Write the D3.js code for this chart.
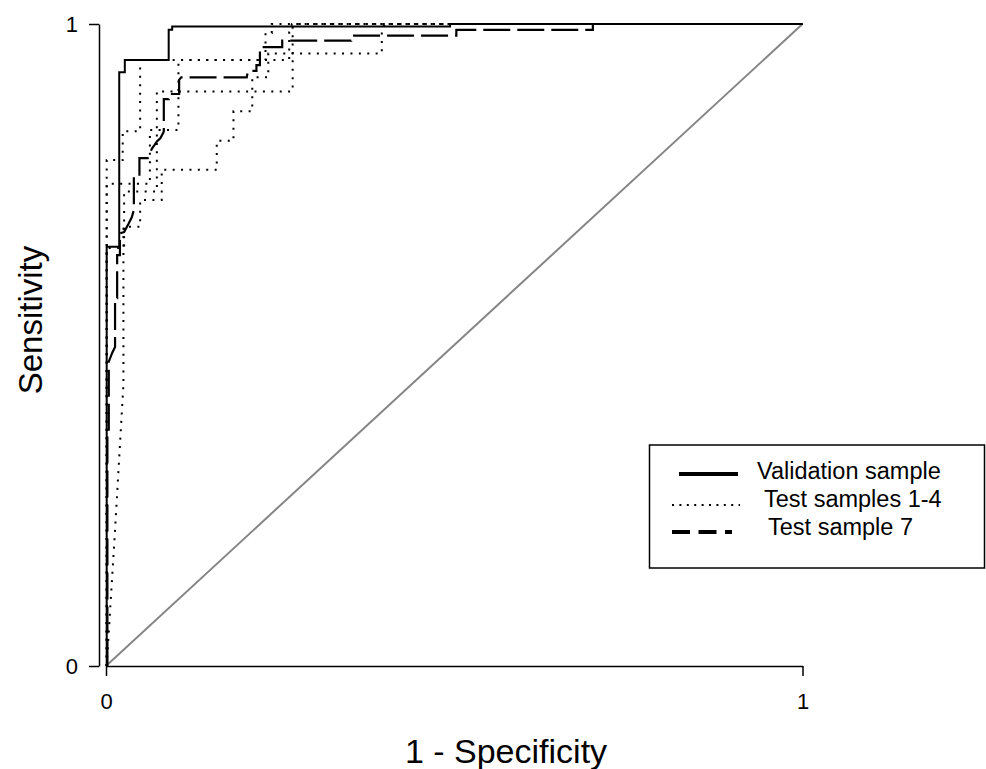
<!DOCTYPE html>
<html>
<head>
<meta charset="utf-8">
<script src="https://cdn.jsdelivr.net/npm/d3@7"></script>
<style>
  html, body { margin: 0; padding: 0; background: #fff; }
  svg { display: block; font-family: "Liberation Sans", Arial, sans-serif; }
</style>
</head>
<body>
<svg id="chart" width="986" height="769"></svg>
<script>
// ---- Data ----
const xTickValues = [0, 1];
const yTickValues = [0, 1];
const xTitle = "1 - Specificity";
const yTitle = "Sensitivity";
const legendLabels = ["Validation sample", "Test samples 1-4", "Test sample 7"];

// Validation sample (solid)
const validationFpr = [0, 0.001, 0.001, 0.019, 0.019, 0.027, 0.027, 0.090, 0.090, 0.095, 0.095, 0.494, 0.494, 1];
const validationTpr = [0, 0, 0.653, 0.653, 0.925, 0.925, 0.944, 0.944, 0.991, 0.991, 0.996, 0.996, 1, 1];

// Test samples 1-4 (dotted)
const test1Fpr = [0.001, 0.001, 0.024, 0.024, 0.049, 0.049, 0.229, 0.229, 0.238, 0.238, 1];
const test1Tpr = [0, 0.788, 0.788, 0.833, 0.833, 0.944, 0.944, 0.986, 0.986, 1, 1];

const test2Fpr = [0.001, 0.013, 0.025, 0.025, 0.049, 0.049, 0.080, 0.080, 0.159, 0.159, 0.183, 0.183, 0.210, 0.210, 0.233, 0.233, 0.396, 0.396, 0.401, 1];
const test2Tpr = [0, 0.212, 0.438, 0.684, 0.684, 0.726, 0.726, 0.773, 0.773, 0.818, 0.818, 0.864, 0.864, 0.917, 0.917, 0.954, 0.954, 0.992, 1, 1];

const test3Fpr = [0.001, 0.001, 0.063, 0.063, 0.104, 0.104, 0.263, 0.263, 0.267, 1];
const test3Tpr = [0, 0.751, 0.751, 0.835, 0.835, 0.944, 0.944, 0.988, 1, 1];

const test4Fpr = [0.001, 0.001, 0.026, 0.026, 0.073, 0.073, 0.268, 0.268, 0.273, 1];
const test4Tpr = [0, 0.651, 0.651, 0.739, 0.739, 0.895, 0.895, 0.994, 1, 1];

// Test sample 7 (dashed)
const test7Fpr = [0, 0.002, 0.002, 0.004, 0.004, 0.009, 0.013, 0.013, 0.016, 0.016, 0.020, 0.020, 0.026, 0.032, 0.037, 0.040, 0.040, 0.048, 0.048, 0.060, 0.066, 0.070, 0.073, 0.078, 0.082, 0.083, 0.083, 0.090, 0.090, 0.105, 0.105, 0.108, 0.202, 0.204, 0.216, 0.216, 0.221, 0.221, 0.253, 0.253, 0.352, 0.352, 0.503, 0.503, 0.699, 0.699, 1];
const test7Tpr = [0, 0, 0.368, 0.368, 0.474, 0.488, 0.497, 0.573, 0.573, 0.640, 0.640, 0.674, 0.676, 0.688, 0.699, 0.710, 0.763, 0.763, 0.791, 0.791, 0.806, 0.812, 0.817, 0.822, 0.830, 0.833, 0.883, 0.883, 0.891, 0.891, 0.913, 0.917, 0.917, 0.927, 0.927, 0.936, 0.936, 0.964, 0.964, 0.974, 0.974, 0.982, 0.982, 0.991, 0.991, 1, 1];

// Chance diagonal
const diagFpr = [0, 1];
const diagTpr = [0, 1];

// ---- Drawing ----
const svg = d3.select("#chart");
const x = d3.scaleLinear().domain([0, 1]).range([106, 802.5]);
const y = d3.scaleLinear().domain([0, 1]).range([666, 24]);

const zip = (a, b) => a.map((v, i) => [v, b[i]]);
const line = d3.line().x(d => x(d[0])).y(d => y(d[1]));

// diagonal
svg.append("path").attr("d", line(zip(diagFpr, diagTpr)))
  .attr("fill", "none").attr("stroke", "#858585").attr("stroke-width", 2);

// dotted test samples 1-4
[[test1Fpr, test1Tpr], [test2Fpr, test2Tpr], [test3Fpr, test3Tpr], [test4Fpr, test4Tpr]].forEach(([f, t]) => {
  svg.append("path").attr("d", line(zip(f, t)))
    .attr("fill", "none").attr("stroke", "#000").attr("stroke-width", 2)
    .attr("stroke-dasharray", "2,6.4");
});

// dashed test sample 7
svg.append("path").attr("d", line(zip(test7Fpr, test7Tpr)))
  .attr("fill", "none").attr("stroke", "#000").attr("stroke-width", 2.2)
  .attr("stroke-dasharray", "27,7");

// solid validation
svg.append("path").attr("d", line(zip(validationFpr, validationTpr)))
  .attr("fill", "none").attr("stroke", "#000").attr("stroke-width", 2);

// axes
const yAxis = svg.append("g").attr("transform", "translate(99,0)")
  .call(d3.axisLeft(y).tickValues(yTickValues).tickFormat(d3.format("d")).tickSize(10).tickSizeOuter(0).tickPadding(11));
const xAxis = svg.append("g").attr("transform", "translate(0,666)")
  .call(d3.axisBottom(x).tickValues(xTickValues).tickFormat(d3.format("d")).tickSize(10).tickSizeOuter(0).tickPadding(17));
[yAxis, xAxis].forEach(g => {
  g.attr("font-size", 22).attr("font-family", "'Liberation Sans', Arial, sans-serif");
  g.select(".domain").attr("stroke", "#000").attr("stroke-width", 1.5);
  g.selectAll(".tick line").attr("stroke", "#000").attr("stroke-width", 1.5);
  g.selectAll(".tick text").attr("fill", "#000").attr("font-size", 22).style("font-size", "22px");
});

// axis titles
svg.append("text").attr("x", 506).attr("y", 763).attr("text-anchor", "middle")
  .attr("font-size", 34).text(xTitle);
svg.append("text").attr("transform", "translate(42,320) rotate(-90)").attr("text-anchor", "middle")
  .attr("font-size", 33).text(yTitle);

// legend
const lg = svg.append("g");
lg.append("rect").attr("x", 649.5).attr("y", 445).attr("width", 335).attr("height", 123)
  .attr("fill", "#fff").attr("stroke", "#000").attr("stroke-width", 1.5);
lg.append("line").attr("x1", 679).attr("x2", 738).attr("y1", 474).attr("y2", 474)
  .attr("stroke", "#000").attr("stroke-width", 4);
lg.append("line").attr("x1", 672).attr("x2", 740).attr("y1", 505).attr("y2", 505)
  .attr("stroke", "#000").attr("stroke-width", 2).attr("stroke-dasharray", "2,5.4");
lg.append("line").attr("x1", 672).attr("x2", 732).attr("y1", 532).attr("y2", 532)
  .attr("stroke", "#000").attr("stroke-width", 4).attr("stroke-dasharray", "18,8.5");
const legX = [757, 764, 768];
const legY = [479, 507, 535];
legendLabels.forEach((t, i) => {
  lg.append("text").attr("x", legX[i]).attr("y", legY[i]).attr("font-size", 23.5).attr("fill", "#000").text(t);
});
</script>
</body>
</html>
